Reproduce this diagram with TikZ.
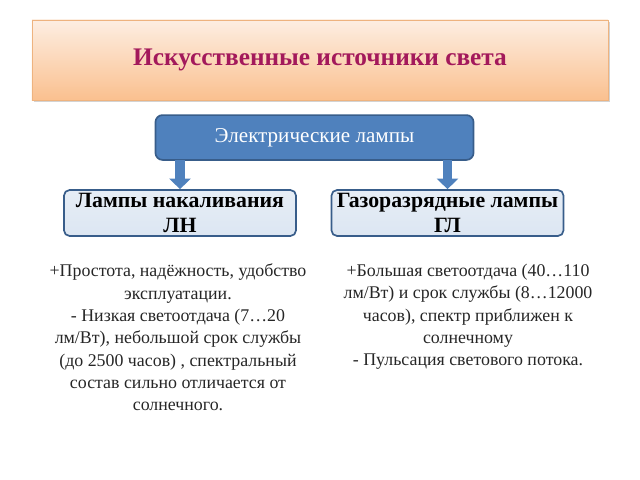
\documentclass[tikz,border=0pt]{standalone}
\usepackage{fontspec}
\setmainfont{Liberation Serif}
\usetikzlibrary{arrows.meta, shadows, positioning}
\definecolor{titlepink}{HTML}{A3195B}
\definecolor{peachtop}{HTML}{FDEEE2}
\definecolor{peachbottom}{HTML}{FAC08F}
\definecolor{lampblue}{HTML}{4F81BD}
\definecolor{lampedge}{HTML}{385D8A}
\definecolor{paleblue}{HTML}{DCE6F2}
\definecolor{textgray}{HTML}{262626}
\tikzset{
  title box/.style={rectangle, top color=peachtop, bottom color=peachbottom, draw=peachbottom!80!brown, line width=0.4pt,
    minimum width=14.4cm, minimum height=2cm, drop shadow={shadow xshift=0.04cm, shadow yshift=-0.05cm, opacity=0.35},
    font=\fontsize{18}{21}\selectfont\bfseries, text=titlepink},
  main lamp/.style={rectangle, rounded corners=5pt, fill=lampblue, draw=lampedge, line width=1.2pt,
    minimum width=7.95cm, minimum height=1.12cm, text=white, font=\fontsize{15}{18}\selectfont},
  lamp box/.style={rectangle, rounded corners=4pt, top color=paleblue!70!white, bottom color=paleblue, draw=lampedge, line width=1.2pt,
    minimum width=5.8cm, minimum height=1.15cm, align=center, font=\fontsize{15.5}{18}\selectfont\bfseries, inner sep=0pt},
  block arrow/.style={draw=lampblue, line width=6.5pt, -{Triangle[width=15pt, length=7.5pt]}},
  note text/.style={align=center, text=textgray, font=\fontsize{12.7}{15.9}\selectfont}
}

\begin{document}
\begin{tikzpicture}[x=0.025cm, y=-0.025cm]
  \useasboundingbox (0,0) rectangle (640,480);

  % --- Title ---
  \node[title box] (title) at (320,60) {Искусственные источники света};

  % --- Lamp hierarchy ---
  \node[main lamp] (electric) at (314.5,137.5) {Электрические лампы};
  \node[lamp box] (incand) at (180,213) {Лампы накаливания\\ЛН};
  \node[lamp box] (gasdis) at (447.5,213) {Газоразрядные лампы\\ГЛ};

  \draw[block arrow] (electric.south -| incand.north) ++(0,-1) coordinate (a1) -- (incand.north);
  \draw[block arrow] (electric.south -| gasdis.north) ++(0,-1) coordinate (a2) -- (gasdis.north);

  % --- Notes under each lamp ---
  \node[note text, anchor=north] (incandnote) at (178,259)
    {+Простота, надёжность, удобство\\эксплуатации.\\- Низкая светоотдача (7…20\\лм/Вт), небольшой срок службы\\(до 2500 часов) , спектральный\\состав сильно отличается от\\солнечного.};
  \node[note text, anchor=north] (gasnote) at (468,259)
    {+Большая светоотдача (40…110\\лм/Вт) и срок службы (8…12000\\часов), спектр приближен к\\солнечному\\- Пульсация светового потока.};
\end{tikzpicture}
\end{document}
